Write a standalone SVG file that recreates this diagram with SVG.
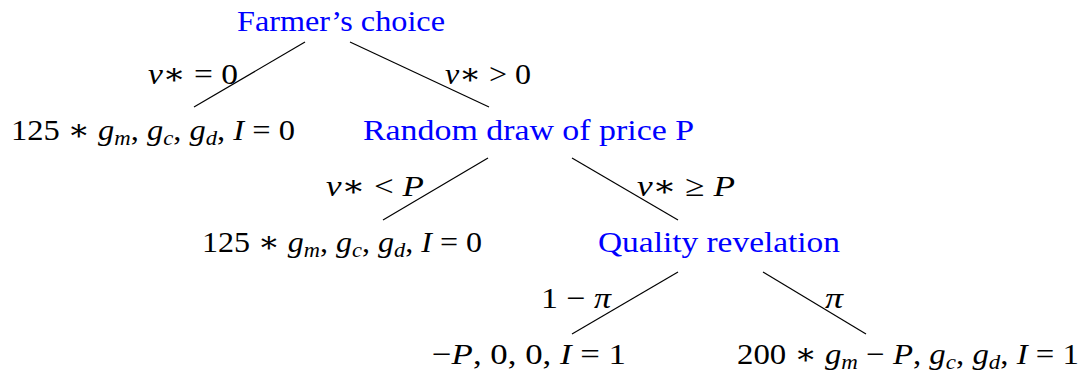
<svg xmlns="http://www.w3.org/2000/svg" width="1084" height="381" viewBox="0 0 1084 381">
<style>
text { font-family: "Liberation Serif", "DejaVu Serif", serif; font-size: 30px; fill: #000; }
.node { fill: #0000ff; }
.i { font-style: italic; }
.s { font-size: 21px; font-style: italic; }
line { stroke: #000; stroke-width: 1.2; }
</style>
<rect width="1084" height="381" fill="#fff"/>
<g id="connectors">
<line x1="305" y1="42" x2="194" y2="107"/>
<line x1="350" y1="42" x2="489" y2="107"/>
<line x1="488" y1="158" x2="383" y2="220"/>
<line x1="572" y1="158" x2="678" y2="220"/>
<line x1="678" y1="272" x2="572" y2="334"/>
<line x1="763" y1="272" x2="866" y2="334"/>
</g>
<g id="edge-labels">
<text x="148" y="84" textLength="90" lengthAdjust="spacingAndGlyphs"><tspan class="i">v</tspan>∗ = 0</text>
<text x="445" y="84" textLength="86" lengthAdjust="spacingAndGlyphs"><tspan class="i">v</tspan>∗ &gt; 0</text>
<text x="326" y="196" textLength="98" lengthAdjust="spacingAndGlyphs"><tspan class="i">v</tspan>∗ &lt; <tspan class="i">P</tspan></text>
<text x="637" y="196" textLength="98" lengthAdjust="spacingAndGlyphs"><tspan class="i">v</tspan>∗ ≥ <tspan class="i">P</tspan></text>
<text x="541" y="308" textLength="70" lengthAdjust="spacingAndGlyphs">1 − <tspan class="i">π</tspan></text>
<text x="825" y="308" textLength="18" lengthAdjust="spacingAndGlyphs" class="i">π</text>
</g>
<g id="n-farmer"><text class="node" x="237" y="31" textLength="208" lengthAdjust="spacingAndGlyphs">Farmer’s choice</text></g>
<g id="n-out1"><text x="11" y="140" textLength="284" lengthAdjust="spacingAndGlyphs">125 ∗ <tspan class="i">g</tspan><tspan class="s" dy="5">m</tspan><tspan dy="-5">, </tspan><tspan class="i">g</tspan><tspan class="s" dy="5">c</tspan><tspan dy="-5">, </tspan><tspan class="i">g</tspan><tspan class="s" dy="5">d</tspan><tspan dy="-5">, </tspan><tspan class="i">I</tspan> = 0</text></g>
<g id="n-random"><text class="node" x="363" y="140" textLength="331" lengthAdjust="spacingAndGlyphs">Random draw of price P</text></g>
<g id="n-out2"><text x="202" y="252" textLength="280" lengthAdjust="spacingAndGlyphs">125 ∗ <tspan class="i">g</tspan><tspan class="s" dy="5">m</tspan><tspan dy="-5">, </tspan><tspan class="i">g</tspan><tspan class="s" dy="5">c</tspan><tspan dy="-5">, </tspan><tspan class="i">g</tspan><tspan class="s" dy="5">d</tspan><tspan dy="-5">, </tspan><tspan class="i">I</tspan> = 0</text></g>
<g id="n-quality"><text class="node" x="598" y="252" textLength="242" lengthAdjust="spacingAndGlyphs">Quality revelation</text></g>
<g id="n-out3"><text x="432" y="364" textLength="194" lengthAdjust="spacingAndGlyphs">−<tspan class="i">P</tspan>, 0, 0, <tspan class="i">I</tspan> = 1</text></g>
<g id="n-out4"><text x="737" y="364" textLength="342" lengthAdjust="spacingAndGlyphs">200 ∗ <tspan class="i">g</tspan><tspan class="s" dy="5">m</tspan><tspan dy="-5"> − </tspan><tspan class="i">P</tspan>, <tspan class="i">g</tspan><tspan class="s" dy="5">c</tspan><tspan dy="-5">, </tspan><tspan class="i">g</tspan><tspan class="s" dy="5">d</tspan><tspan dy="-5">, </tspan><tspan class="i">I</tspan> = 1</text></g>
</svg>
